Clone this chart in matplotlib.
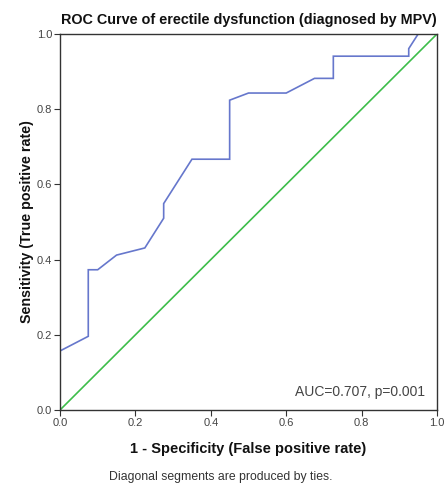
import matplotlib
matplotlib.use('Agg')
import matplotlib.pyplot as plt

# ROC points (1 - specificity, sensitivity)
fpr = [0.0, 0.0, 0.075, 0.075, 0.100, 0.150, 0.225, 0.275, 0.275, 0.350,
       0.450, 0.450, 0.500, 0.600, 0.675, 0.725, 0.725, 0.925, 0.925, 0.950, 1.0]
tpr = [0.0, 0.157, 0.196, 0.373, 0.373, 0.412, 0.431, 0.510, 0.549, 0.667,
       0.667, 0.824, 0.843, 0.843, 0.882, 0.882, 0.941, 0.941, 0.961, 1.0, 1.0]
ref_line = [0.0, 1.0]
ticks = [0.0, 0.2, 0.4, 0.6, 0.8, 1.0]
tick_labels = ['0.0', '0.2', '0.4', '0.6', '0.8', '1.0']

plt.rcParams['font.family'] = ['Liberation Sans', 'DejaVu Sans']

fig = plt.figure(figsize=(4.45, 4.84), dpi=100)
ax = fig.add_axes([60 / 445, 1 - 410 / 484, 377 / 445, 376 / 484])

ax.plot(fpr, tpr, color='#6677cc', lw=1.2, solid_joinstyle='miter')
ax.plot(ref_line, ref_line, color='#3dbd4a', lw=1.2)

ax.set_xlim(0, 1)
ax.set_ylim(0, 1)
ax.set_xticks(ticks)
ax.set_xticklabels(tick_labels)
ax.set_yticks(ticks)
ax.set_yticklabels(tick_labels)
ax.tick_params(direction='out', length=4, width=0.8, colors='#333333',
               labelsize=8, labelcolor='#444444', pad=1.5)
for sp in ax.spines.values():
    sp.set_color('#333333')
    sp.set_linewidth(1.0)

ax.set_title('ROC Curve of erectile dysfunction (diagnosed by MPV)',
             fontsize=10.4, fontweight='bold', pad=7, color='#111111')
ax.set_xlabel('1 - Specificity (False positive rate)', fontsize=10.5,
              fontweight='bold', labelpad=10, color='#111111')
ax.set_ylabel('Sensitivity (True positive rate)', fontsize=10.3,
              fontweight='bold', labelpad=2, color='#111111')

ax.text(0.967, 0.03, 'AUC=0.707, p=0.001', transform=ax.transAxes,
        ha='right', va='bottom', fontsize=10, color='#444444')

fig.text(221 / 445, 1 - 477 / 484, 'Diagonal segments are produced by ties.',
         ha='center', va='center', fontsize=8.8, color='#333333')

fig.savefig('out.png', dpi=100)
